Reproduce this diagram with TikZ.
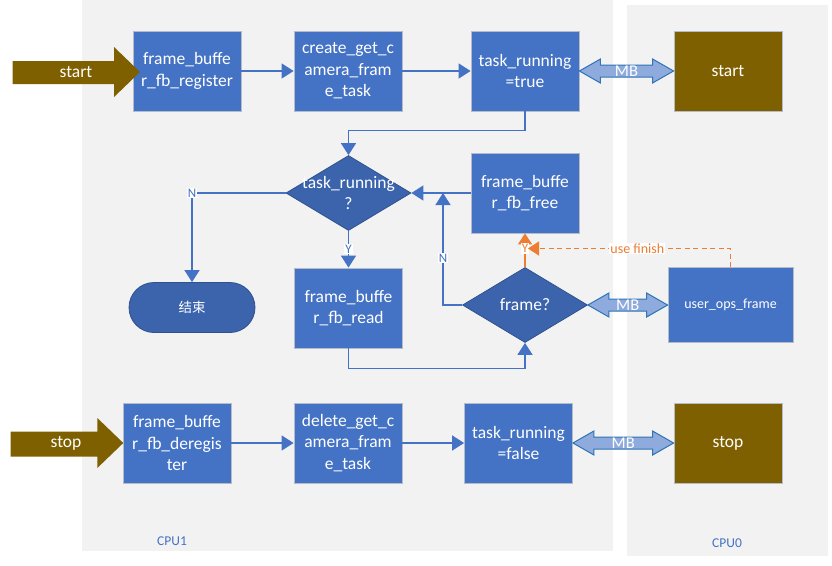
\documentclass[tikz,border=0pt]{standalone}
\usepackage{fontspec}
\setmainfont{Carlito}
\newfontfamily\cjk{Noto Sans CJK SC}
\usetikzlibrary{shapes.geometric,shapes.misc,arrows.meta,calc}

\definecolor{panelgray}{HTML}{F2F2F2}
\definecolor{boxblue}{HTML}{4472C4}
\definecolor{boxedge}{HTML}{B4BCCB}
\definecolor{darkblue}{HTML}{3B64AD}
\definecolor{darkedge}{HTML}{2F528F}
\definecolor{olive}{HTML}{7F6000}
\definecolor{lineblue}{HTML}{4472C4}
\definecolor{mbfill}{HTML}{8FAADC}
\definecolor{mbedge}{HTML}{2E75B6}
\definecolor{warm}{HTML}{ED7D31}

% horizontal two-headed block arrow between two anchors
\newcommand\mbarrow[2]{%
  \path[mbshape] let \p1=(#1), \p2=(#2) in
    (\x1,\y1) -- (\x1+21pt,\y1+12pt) -- (\x1+21pt,\y1+6pt) -- (\x2-21pt,\y1+6pt)
    -- (\x2-21pt,\y1+12pt) -- (\x2,\y1) -- (\x2-21pt,\y1-12pt) -- (\x2-21pt,\y1-6pt)
    -- (\x1+21pt,\y1-6pt) -- (\x1+21pt,\y1-12pt) -- cycle;}

\begin{document}
\begin{tikzpicture}[x=1pt,y=-1pt,
  panel/.style={fill=panelgray,draw=none},
  box/.style={rectangle,draw=boxedge,line width=0.8pt,fill=boxblue,text=white,
    minimum width=108pt,minimum height=80pt,inner sep=0pt,align=center,
    font=\fontsize{17.5}{21.5}\selectfont},
  brownbox/.style={box,fill=olive},
  dia/.style={diamond,draw=darkedge,line width=0.8pt,fill=darkblue,
    minimum width=125pt,minimum height=75pt,inner sep=0pt},
  diatext/.style={text=white,align=center,font=\fontsize{17.5}{21.5}\selectfont},
  term/.style={rounded rectangle,draw=darkedge,line width=0.8pt,fill=darkblue,
    text=white,minimum width=126pt,minimum height=50pt,inner sep=0pt,
    font=\cjk\fontsize{13.5}{16}\selectfont},
  conn/.style={draw=lineblue,line width=1.4pt,-{Triangle[length=12pt,width=15pt]}},
  oconn/.style={draw=warm,line width=1.4pt,-{Triangle[length=11pt,width=14pt]}},
  lbl/.style={fill=white,text=lineblue,inner sep=1pt,font=\fontsize{13}{14}\selectfont},
  olbl/.style={fill=white,text=warm,inner sep=1pt,font=\fontsize{14}{15}\selectfont},
  mbshape/.style={fill=mbfill,draw=mbedge,line width=1pt,line join=miter},
  mbtext/.style={text=white,inner sep=0pt,font=\fontsize{16.5}{18}\selectfont},
  bigarrow/.style={fill=olive},
  arrowtext/.style={text=white,inner sep=0pt,font=\fontsize{17.5}{19}\selectfont},
  cputext/.style={text=lineblue,inner sep=0pt,font=\fontsize{13.5}{15}\selectfont}]

\useasboundingbox (0,0) rectangle (832,565);

% processor panels
\fill[panel] (82,0) rectangle (613,551);
\fill[panel] (627,5) rectangle (828,556);
\node[cputext] (cpu1) at (172,541) {CPU1};
\node[cputext] (cpu0) at (727,543) {CPU0};

% start sequence
\node[box] (reg) at (187,71) {frame\_buffe\\r\_fb\_register};
\node[box] (create) at (348,71) {create\_get\_c\\amera\_fram\\e\_task};
\node[box] (ton) at (525,71) {task\_running\\=true};
\node[brownbox] (startb) at (728,71) {start};

% main loop
\node[dia] (dec1) at (348.5,193) {};
\node[diatext] (dec1t) at (dec1) {task\_running\\?};
\node[box] (free) at (525,193) {frame\_buffe\\r\_fb\_free};
\node[term] (endn) at (192,307.5) {结束};
\node[box] (read) at (348.5,308) {frame\_buffe\\r\_fb\_read};
\node[dia] (dec2) at (525,305) {};
\node[diatext] (dec2t) at (dec2) {frame?};
\node[box,minimum width=125pt,minimum height=75pt,font=\fontsize{14}{16}\selectfont]
  (user) at (730.5,305) {user\_ops\_frame};

% stop sequence
\node[box] (dereg) at (177,443) {frame\_buffe\\r\_fb\_deregis\\ter};
\node[box] (del) at (348,443) {delete\_get\_c\\amera\_fram\\e\_task};
\node[box] (toff) at (518.5,443) {task\_running\\=false};
\node[brownbox] (stopb) at (728,443) {stop};

% entry arrows
\fill[bigarrow] (12.7,61) -- (114,61) -- (114,47) -- (140,72) -- (114,97)
  -- (114,84) -- (12.7,84) -- cycle;
\node[arrowtext] (startt) at (76,72) {start};
\fill[bigarrow] (10.7,431.5) -- (97.3,431.5) -- (97.3,418) -- (123.3,443)
  -- (97.3,468) -- (97.3,456.5) -- (10.7,456.5) -- cycle;
\node[arrowtext] (stopt) at (66,443) {stop};

% connectors
\draw[conn] (reg) -- (create);
\draw[conn] (create) -- (ton);
\draw[conn] (ton.south) -- ++(0,19) -| (dec1.north);
\draw[conn] (dec1.west) -| node[lbl] {N} (endn.north);
\draw[conn] (dec1.south) -- node[lbl] {Y} (read.north);
\draw[conn] (read.south) -- ++(0,20) -| (dec2.south);
\draw[conn] (free.west) -- (dec1.east);
\coordinate (nj) at (443,193);
\draw[conn] (dec2.west) -| node[lbl,pos=0.71] {N} (nj);
\draw[conn] (dereg) -- (del);
\draw[conn] (del) -- (toff);

% frame release path
\draw[oconn] (dec2.north) -- node[olbl,pos=0.55,font=\fontsize{13}{14}\selectfont] {Y} (free.south);
\coordinate (uj) at (528,248.5);
\draw[oconn,dash pattern=on 5pt off 3.5pt] (user.north) |- node[olbl,pos=0.73] {use finish} (uj);

% mailbox links
\mbarrow{ton.east}{startb.west}
\node[mbtext] (mb1) at ($(ton.east)!0.5!(startb.west)$) {MB};
\mbarrow{dec2.east}{user.west}
\node[mbtext] (mb2) at ($(dec2.east)!0.5!(user.west)$) {MB};
\mbarrow{toff.east}{stopb.west}
\node[mbtext] (mb3) at ($(toff.east)!0.5!(stopb.west)$) {MB};

\end{tikzpicture}
\end{document}
